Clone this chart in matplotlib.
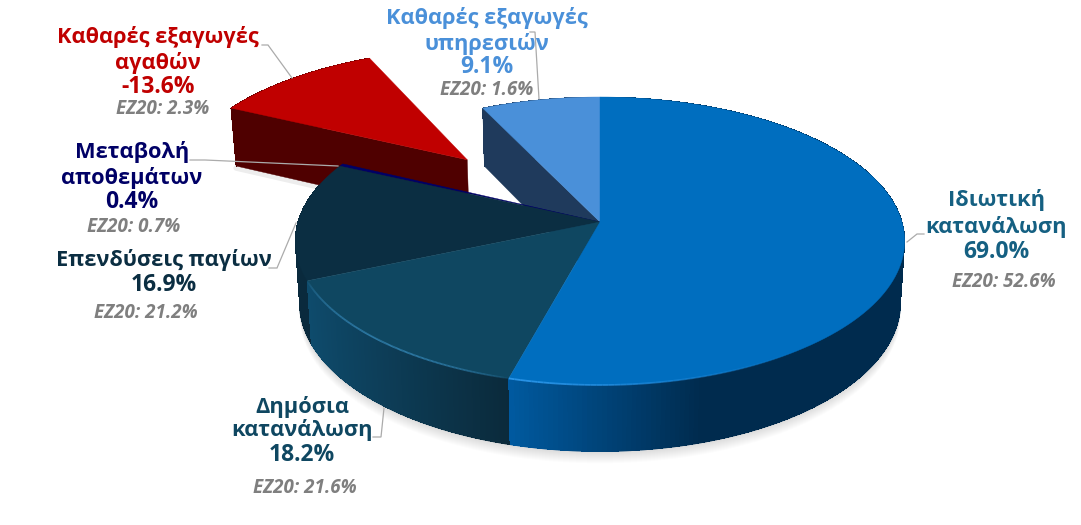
import numpy as np
import matplotlib
matplotlib.use('Agg')
import matplotlib.pyplot as plt
from matplotlib.collections import PolyCollection, LineCollection
from matplotlib.colors import to_rgb
from matplotlib.patches import Polygon

# data
categories = ['Ιδιωτική\nκατανάλωση', 'Δημόσια\nκατανάλωση', 'Επενδύσεις παγίων',
              'Μεταβολή\nαποθεμάτων', 'Καθαρές εξαγωγές\nαγαθών', 'Καθαρές εξαγωγές\nυπηρεσιών']
values = [69.0, 18.2, 16.9, 0.4, -13.6, 9.1]
ez20 = [52.6, 21.6, 21.2, 0.7, 2.3, 1.6]

# styles
top_colors = ['#006EBF', '#0F4761', '#0B2E42', '#000066', '#C00000', '#4A90D9']
wall_left = ['#005AA0', '#0E4B6C', '#0A2A3D', '#000066', '#4F0000', '#1F3A5C']
wall_right = ['#002B4E', '#0B2A3B', '#0A2A3D', '#000066', '#4F0000', '#1F3A5C']
text_colors = ['#156082', '#0F4761', '#0B2E42', '#000066', '#C00000', '#4A90D9']
explode = [0, 0, 0, 0, 0.66, 0]
grey = '#7F7F7F'
font = 'Open Sans'

# label layout: centre x, y of each line, x of the EZ20 line
label_x = [996, 302, 164, 132, 158, 487]
label_ys = [[200, 227, 252, 282], [407, 430, 455, 488], [260, 285, 313],
            [152, 178, 202, 227], [37, 63, 87, 109], [18, 44, 67, 90]]
ez_x = [1004, 305, 146, 134, 163, 487]
leaders = [[(924, 234), (917, 234), (907, 242)],
           [(373, 437), (381, 437), (384, 408)],
           [(269, 268), (277, 268), (296, 223)],
           [(190, 160), (205, 160), (338, 166)],
           [(262, 45), (268, 45), (292, 78)],
           [(530, 32), (535, 32), (539, 99)]]

# pie geometry (pixels)
cx, cy = 600, 222
rx, ry = 302, 141.5
persp = 0.132
depth = 61.4


def project(X, Y, bottom=False):
    X, Y = np.asarray(X, float), np.asarray(Y, float)
    w = 1 + persp * Y
    if bottom:
        return cx + 0.986 * rx * X / w, cy + depth - 1.03 * ry * Y / w
    return cx + rx * X / w, cy - ry * Y / w


def mix(c1, c2, f):
    return tuple((1 - f) * a + f * b for a, b in zip(to_rgb(c1), to_rgb(c2)))


def rim_quads(t, off):
    X, Y = np.cos(t) + off[0], np.sin(t) + off[1]
    xt, yt = project(X, Y)
    xb, yb = project(X, Y, True)
    quads = [[(xt[k], yt[k]), (xt[k + 1], yt[k + 1]), (xb[k + 1], yb[k + 1]), (xb[k], yb[k])]
             for k in range(len(t) - 1)]
    pts = np.c_[xb, yb]
    return quads, np.stack([pts[:-1], pts[1:]], axis=1)


def radial_wall(ang, off, color, z):
    X0, Y0 = off
    X1, Y1 = np.cos(ang) + off[0], np.sin(ang) + off[1]
    a, b = project([X0, X1], [Y0, Y1])
    c, d = project([X1, X0], [Y1, Y0], True)
    ax.add_patch(Polygon(np.c_[np.r_[a, c], np.r_[b, d]], closed=True, fc=color, ec=color, lw=0.3, zorder=z))


def soft_shadow(X, Y, z):
    xs, ys = project(X, Y, True)
    for j in range(1, 13):
        ax.add_patch(Polygon(np.c_[xs, ys + j], closed=True, fc='black', ec='none', alpha=0.012, zorder=z))


fig = plt.figure(figsize=(10.81, 5.25), dpi=100)
ax = fig.add_axes([0, 0, 1, 1])
ax.set_xlim(0, 1081)
ax.set_ylim(525, 0)
ax.axis('off')

shares = np.abs(values) / np.abs(values).sum() * 2 * np.pi
ends = np.pi / 2 - np.cumsum(shares)
starts = ends + shares

# shadows only under the front of the pie and under the pulled out slice
front = np.linspace(np.pi + 0.05, 2 * np.pi - 0.05, 300)
soft_shadow(np.cos(front), np.sin(front), 0.5)
mid = (starts[4] + ends[4]) / 2
off_g = (explode[4] * np.cos(mid), explode[4] * np.sin(mid))
xg, yg = project([off_g[0], np.cos(starts[4]) + off_g[0]], [off_g[1], np.sin(starts[4]) + off_g[1]], True)
ax.plot(xg, yg + 2, color='black', alpha=0.07, lw=4, zorder=0.5, solid_capstyle='round')

# slices: pulled out one first so that the pie covers it
for i in [4, 5, 3, 2, 1, 0]:
    off = (explode[i] * np.cos((starts[i] + ends[i]) / 2), explode[i] * np.sin((starts[i] + ends[i]) / 2))
    t = np.linspace(starts[i], ends[i], 240)
    base = 1 + 4 * (i == 4)
    fr = np.clip((np.cos(t) - np.cos(t).min()) / max(np.cos(t).max() - np.cos(t).min(), 1e-6), 0, 1)
    if i == 0:
        # the private wall reaches its darkest tone about a third of the way round
        fr = np.clip((np.cos(t) + 0.26) / 0.56, 0, 1)
    cols = [mix(wall_left[i], wall_right[i], f) for f in fr[:-1]]
    quads, lower = rim_quads(t, off)
    ax.add_collection(PolyCollection(quads, facecolors=cols, edgecolors='none', antialiaseds=False, zorder=base))
    if i < 4:
        ax.add_collection(LineCollection(lower, colors=cols, linewidths=0.8, zorder=base))
    # only the two cut faces beside the gap can be seen
    if i in (4, 5):
        radial_wall(starts[i], off, wall_left[i], base + 0.1)

# tops go over every wall of the main pie
for i in [5, 3, 2, 1, 0, 4]:
    off = (explode[i] * np.cos((starts[i] + ends[i]) / 2), explode[i] * np.sin((starts[i] + ends[i]) / 2))
    t = np.linspace(starts[i], ends[i], 120)
    x, y = project(np.r_[off[0], np.cos(t) + off[0]], np.r_[off[1], np.sin(t) + off[1]])
    z = 6 + 0.1 * (5 - i) if i != 4 else 5.5
    ax.add_patch(Polygon(np.c_[x, y], closed=True, fc=top_colors[i], ec=top_colors[i], lw=0.3, zorder=z))

# light edge along the front of the rim
for i, light, strength in [(0, '#2A95E8', 1.0), (1, '#2F7CA8', 1.0)]:
    t = np.linspace(starts[i], ends[i], 200)
    t = t[t < -0.9] if i == 0 else t
    x, y = project(np.cos(t), np.sin(t))
    pts = np.c_[x, y]
    segs = np.stack([pts[:-1], pts[1:]], axis=1)
    f = np.linspace(0, 1, len(segs))
    fade = f if i == 0 else np.sin(np.pi * f) ** 0.5
    rgba = [(*to_rgb(light), strength * a) for a in fade]
    ax.add_collection(LineCollection(segs, colors=rgba, linewidths=1.3, zorder=7))

# leader lines
for pts in leaders:
    ax.plot(*zip(*pts), color='#ABABAB', lw=0.9, zorder=8, solid_joinstyle='miter')

# labels
for i, name in enumerate(categories):
    lines = name.split('\n')
    for line, yy in zip(lines, label_ys[i]):
        ax.text(label_x[i], yy, line, color=text_colors[i], fontsize=15.7, fontweight='bold',
                family=font, ha='center', va='center', zorder=9)
    ax.text(label_x[i], label_ys[i][len(lines)], f'{values[i]:.1f}%', color=text_colors[i], fontsize=16.5,
            fontweight='bold', family=font, ha='center', va='center', zorder=9)
    ax.text(ez_x[i], label_ys[i][-1], f'EZ20: {ez20[i]:.1f}%', color=grey, fontsize=13.5, fontweight='bold',
            style='italic', family=font, ha='center', va='center', zorder=9)

fig.savefig('out.png', dpi=100, facecolor='white')
